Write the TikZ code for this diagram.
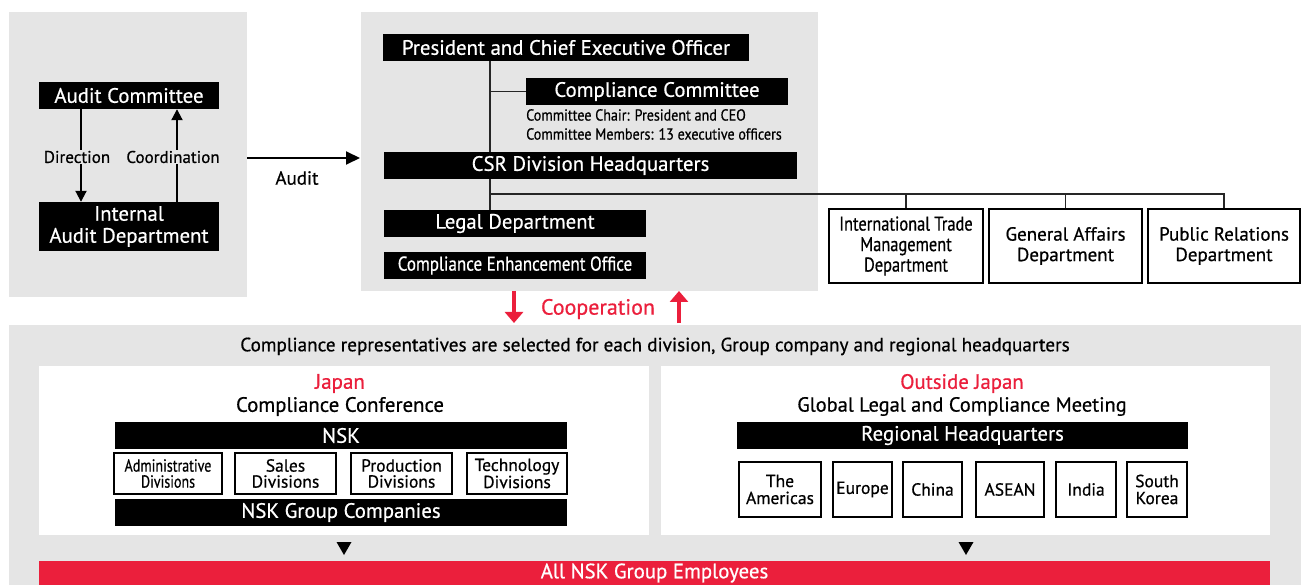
\documentclass[tikz,border=0pt]{standalone}
\usepackage{fontspec}
\setmainfont{PT Sans}[FakeBold=0.6]
\usetikzlibrary{arrows.meta}
\definecolor{nskred}{HTML}{EB1F3C}
\definecolor{panelgray}{HTML}{E5E5E5}
\newcommand{\narrow}[1]{\addfontfeatures{FakeStretch=#1}}
\tikzset{
  blackbox/.style={fill=black, text=white, inner sep=0pt, minimum height=27,
    align=center, font=\fontsize{20.8}{22}\selectfont},
  whitebox/.style={draw=black, line width=2, fill=white, inner sep=0pt,
    align=center, font=\fontsize{19}{20.5}\selectfont},
  smallbox/.style={whitebox, minimum height=41, font=\fontsize{17.5}{16}\selectfont},
  regionbox/.style={whitebox, minimum height=55, font=\fontsize{17.5}{17}\selectfont},
  lbl/.style={inner sep=1pt, font=\fontsize{17}{20}\selectfont},
  orgline/.style={draw=black!85, line width=1.5},
  arr/.style={line width=2, -{Triangle[length=11,width=11]}},
  redarr/.style={draw=nskred, line width=3.5, -{Triangle[length=11,width=18]}},
}
\begin{document}
\begin{tikzpicture}[x=1pt, y=-1pt]
    \useasboundingbox (0,0) rectangle (1301,585);
    % panels
    \fill[panelgray] (9,12) rectangle (247,297);
    \fill[panelgray] (361,12) rectangle (818,291);
    \fill[panelgray] (9,325) rectangle (1301,585);
    \fill[white] (39,366) rectangle (649,535);
    \fill[white] (661,366) rectangle (1270,535);

    % audit side
    \node[blackbox, minimum width=180] (auditc) at (129,95.5) {Audit Committee};
    \node[blackbox, minimum width=180, minimum height=49] (iad) at (129,226.5) {Internal\\Audit Department};
    \coordinate (dirx) at (81,0);
    \coordinate (coox) at (177,0);
    \draw[arr] (auditc.south -| dirx) -- node[lbl, fill=panelgray, xshift=-4, yshift=-1.5] {Direction} (iad.north -| dirx);
    \draw[arr] (iad.north -| coox) -- node[lbl, fill=panelgray, xshift=-4, yshift=-1.5] {Coordination} (auditc.south -| coox);
    \coordinate (auditfrom) at (247,158);
    \coordinate (auditto) at (360,158);
    \draw[arr, -{Triangle[length=14,width=13]}] (auditfrom) -- (auditto);
    \node[lbl, font=\fontsize{19}{20}\selectfont] (auditlbl) at (297,178) {Audit};

    % head office
    \node[blackbox, minimum width=366] (pres) at (566,47.5) {President and Chief Executive Officer};
    \node[blackbox, minimum width=262] (cc) at (657,91.5) {Compliance Committee};
    \node[anchor=north west, inner sep=0pt, align=left, font=\fontsize{16}{19}\selectfont\narrow{0.88}] (ccinfo) at (526,109)
        {Committee Chair: President and CEO\\Committee Members: 13 executive officers};
    \node[blackbox, minimum width=413] (csr) at (590.5,165.5) {CSR Division Headquarters};
    \node[blackbox, minimum width=262] (legal) at (515,223.5) {Legal Department};
    \node[blackbox, minimum width=262, font=\fontsize{20}{20}\selectfont\narrow{0.85}] (ceo) at (515,265.5) {Compliance Enhancement Office};
    \node[whitebox, minimum width=154, minimum height=74, font=\fontsize{20}{20.5}\selectfont\narrow{0.82}] (itm) at (906,246) {International Trade\\Management\\Department};
    \node[whitebox, minimum width=153, minimum height=74] (ga) at (1065.5,246) {General Affairs\\Department};
    \node[whitebox, minimum width=152, minimum height=74] (pr) at (1224,246) {Public Relations\\Department};

    \coordinate (trunk) at (490,0);
    \coordinate (branch) at (490,194);
    \draw[orgline] (pres.south -| trunk) -- (csr.north -| trunk);
    \draw[orgline] (trunk |- cc.west) -- (cc.west);
    \draw[orgline] (csr.south -| trunk) -- (legal.north -| trunk);
    \draw[orgline] (branch) -- (branch -| pr.north) -- (pr.north);
    \draw[orgline] (branch -| itm.north) -- (itm.north);
    \draw[orgline] (branch -| ga.north) -- (ga.north);

    % cooperation
    \coordinate (coopdowntop) at (514,291);
    \coordinate (coopdownbot) at (514,323);
    \coordinate (coopuptop) at (679,291);
    \coordinate (coopupbot) at (679,323);
    \draw[redarr] (coopdowntop) -- (coopdownbot);
    \draw[redarr] (coopupbot) -- (coopuptop);
    \node[lbl, text=nskred, font=\fontsize{22}{22}\selectfont] (coop) at (598,309) {Cooperation};

    % group level
    \node[lbl, font=\fontsize{19.2}{20}\selectfont] (reps) at (655,346.5) {Compliance representatives are selected for each division, Group company and regional headquarters};

    % Japan
    \node[lbl, text=nskred, font=\fontsize{21}{20}\selectfont] (japan) at (340,383.5) {Japan};
    \node[lbl, font=\fontsize{20.8}{20}\selectfont] (confjp) at (340,406.5) {Compliance Conference};
    \node[blackbox, minimum width=452] (nsk) at (341,435.5) {NSK};
    \node[smallbox, minimum width=108, font=\fontsize{17.5}{16}\selectfont\narrow{0.8}] (admin) at (168,473.5) {Administrative\\Divisions};
    \node[smallbox, minimum width=101] (sales) at (285.5,473.5) {Sales\\Divisions};
    \node[smallbox, minimum width=101] (prod) at (401.5,473.5) {Production\\Divisions};
    \node[smallbox, minimum width=100] (tech) at (517,473.5) {Technology\\Divisions};
    \node[blackbox, minimum width=452] (nskgc) at (341,512.5) {NSK Group Companies};

    % outside Japan
    \node[lbl, text=nskred, font=\fontsize{20.8}{20}\selectfont] (outside) at (962,383.5) {Outside Japan};
    \node[lbl, font=\fontsize{20.4}{20}\selectfont] (glcm) at (962,406.5) {Global Legal and Compliance Meeting};
    \node[blackbox, minimum width=451] (rhq) at (962.5,435.5) {Regional Headquarters};
    \node[regionbox, minimum width=82] (amer) at (780,489.5) {The\\Americas};
    \node[regionbox, minimum width=59] (europe) at (862.5,489.5) {Europe};
    \node[regionbox, minimum width=59] (china) at (932.5,489.5) {China};
    \node[regionbox, minimum width=68] (asean) at (1010,489.5) {ASEAN};
    \node[regionbox, minimum width=60] (india) at (1086,489.5) {India};
    \node[regionbox, minimum width=60] (korea) at (1157,489.5) {South\\Korea};

    % to all employees
    \fill (336.5,542) -- (351.5,542) -- (344,555) -- cycle;
    \fill (958.5,542) -- (973.5,542) -- (966,555) -- cycle;
    \node[blackbox, fill=nskred, minimum width=1231, minimum height=24] (allemp) at (654.5,573) {\raisebox{-3pt}{All NSK Group Employees}};
\end{tikzpicture}
\end{document}
